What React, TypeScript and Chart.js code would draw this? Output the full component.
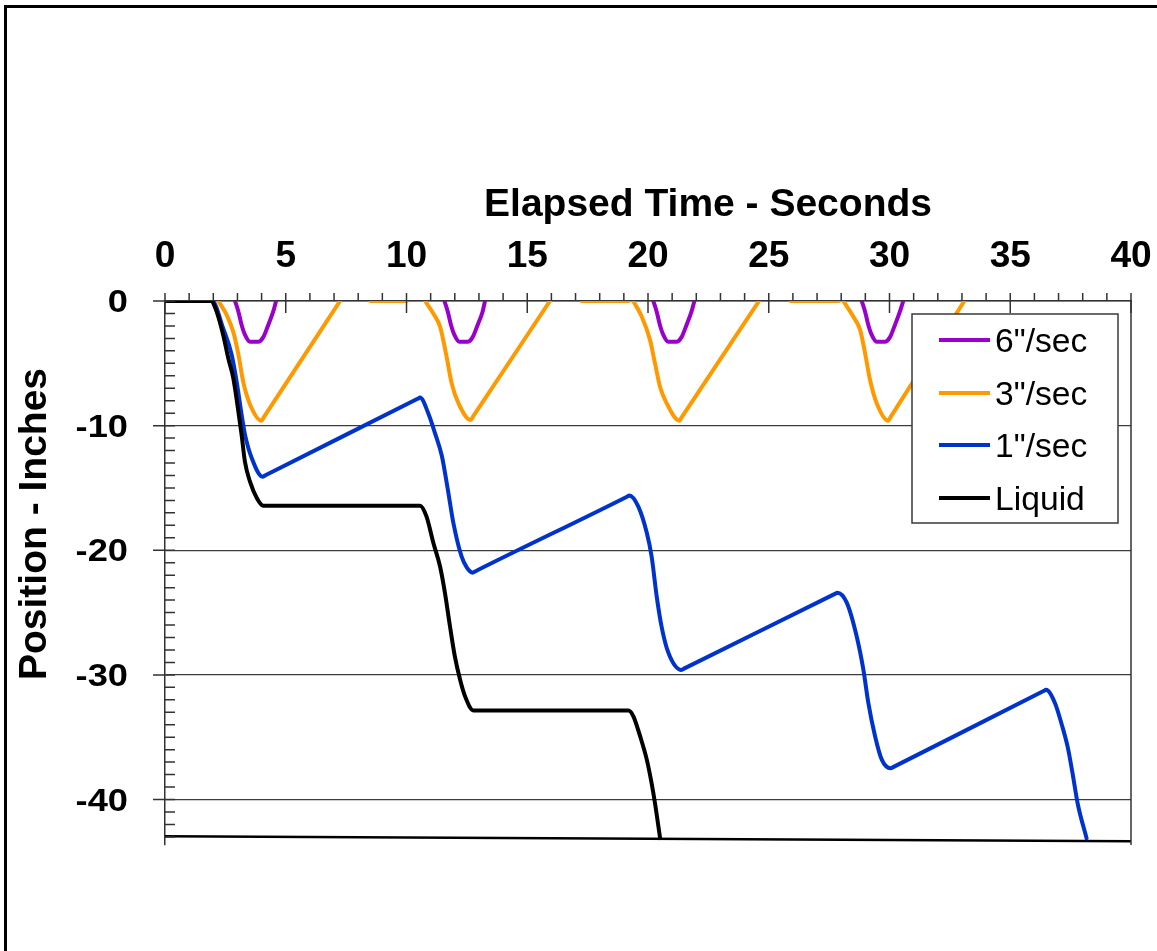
import React, { useEffect, useRef } from "react";
import { Chart, registerables } from "chart.js";

Chart.register(...registerables);

// Axis ticks
const xTickValues = [0, 5, 10, 15, 20, 25, 30, 35, 40];
const xTickLabels = ["0", "5", "10", "15", "20", "25", "30", "35", "40"];
const yTickValues = [0, -10, -20, -30, -40];
const yTickLabels = ["0", "-10", "-20", "-30", "-40"];

// Legend entries
const seriesNames = ['6"/sec', '3"/sec', '1"/sec', "Liquid"];
const seriesColors = ["#9900CC", "#FF9900", "#0033CC", "#000000"];

// Liquid level
const liquidTime = [0, 1.9, 2.14, 2.41, 2.62, 2.83, 3.04, 3.17, 3.31, 3.52, 3.8, 4.07, 10.56, 10.83, 11.11, 11.39, 11.59, 11.8, 12.0, 12.22, 12.42, 12.77, 19.19, 19.39, 19.67, 19.95, 20.15, 20.29, 20.5];
const liquidPos = [0, 0, -0.86, -2.73, -4.6, -6.2, -8.9, -10.7, -12.9, -14.5, -15.8, -16.42, -16.42, -17.3, -19.4, -21.3, -23.4, -26.1, -28.5, -30.4, -31.7, -32.85, -32.85, -33.3, -34.9, -36.8, -38.7, -40.3, -43.1];

// 1"/sec follower
const rate1Time = [0, 1.95, 2.41, 2.76, 2.97, 3.17, 3.31, 3.59, 4.04, 4.14, 10.46, 10.56, 10.9, 11.18, 11.46, 11.7, 11.94, 12.28, 12.5, 12.74, 12.84, 19.13, 19.23, 19.6, 19.95, 20.15, 20.36, 20.56, 20.84, 21.39, 21.49, 27.74, 27.84, 28.23, 28.64, 28.92, 29.12, 29.4, 29.68, 30.05, 30.15, 36.38, 36.48, 36.85, 37.12, 37.38, 37.58, 37.8, 38.16];
const rate1Pos = [0, 0, -2.2, -4.3, -6.5, -9.1, -10.7, -12.6, -14.1, -14.0, -7.85, -7.75, -9.0, -10.6, -12.4, -15.0, -17.8, -20.5, -21.4, -21.8, -21.7, -15.7, -15.6, -16.5, -18.6, -20.5, -23.7, -26.1, -28.2, -29.6, -29.5, -23.5, -23.4, -24.2, -26.9, -29.6, -32.2, -34.9, -36.8, -37.5, -37.4, -31.3, -31.2, -32.25, -33.9, -35.8, -37.9, -40.4, -43.1];

// 3"/sec follower (null = no trace)
const rate3Time = [2.21, 2.55, 2.83, 3.04, 3.24, 3.52, 4.0, 4.1, 7.25, 7.9, 8.5, 10.0, 10.4, 10.77, 11.11, 11.39, 11.66, 11.87, 12.15, 12.66, 12.76, 15.94, 16.6, 17.25, 19.2, 19.3, 19.39, 19.74, 20.08, 20.29, 20.5, 20.77, 21.3, 21.4, 24.6, 25.2, 25.9, 27.9, 28.0, 28.09, 28.5, 28.78, 28.99, 29.19, 29.47, 29.95, 30.05, 33.1];
const rate3Pos = [0, -1.1, -2.5, -4.3, -6.5, -8.3, -9.6, -9.3, 0, null, 0, 0, null, 0, -1.0, -2.06, -4.47, -6.6, -8.2, -9.55, -9.26, 0, null, 0, 0, null, 0, -1.25, -3.1, -5.0, -6.9, -8.2, -9.6, -9.31, 0, null, 0, 0, null, 0, -1.25, -2.3, -4.2, -6.3, -8.2, -9.6, -9.3, 0];

// 6"/sec follower (null = no trace)
const rate6Time = [2.9, 3.04, 3.17, 3.31, 3.52, 3.86, 4.07, 4.28, 4.48, 4.6, 8.0, 11.57, 11.71, 11.84, 11.98, 12.19, 12.53, 12.74, 12.95, 13.15, 13.25, 16.7, 20.22, 20.36, 20.49, 20.63, 20.84, 21.18, 21.39, 21.6, 21.8, 21.92, 25.4, 28.85, 28.99, 29.12, 29.26, 29.47, 29.81, 30.02, 30.23, 30.43, 30.57];
const rate6Pos = [0, -0.86, -1.9, -2.7, -3.27, -3.27, -2.9, -1.9, -0.86, 0, null, 0, -0.86, -1.9, -2.7, -3.27, -3.27, -2.9, -1.9, -0.86, 0, null, 0, -0.86, -1.9, -2.7, -3.27, -3.27, -2.9, -1.9, -0.86, 0, null, 0, -0.86, -1.9, -2.7, -3.27, -3.27, -2.9, -1.9, -0.86, 0];

// Tank floor
const floorTime = [0, 40];
const floorPos = [-42.94, -43.34];

const X_MIN = 0;
const X_MAX = 40;
const Y_MIN = -43.65;
const Y_MAX = 0;

const FONT = "'Liberation Sans', Arial, sans-serif";
const AXIS_COLOR = "#333333";

const pairs = (t: number[], v: (number | null)[]) => t.map((x, i) => ({ x, y: v[i] }));

function drawText(
  ctx: CanvasRenderingContext2D,
  text: string,
  x: number,
  y: number,
  font: string,
  align: CanvasTextAlign,
  baseline: CanvasTextBaseline,
  sx = 1,
  rotate = 0
) {
  ctx.save();
  ctx.translate(x, y);
  if (rotate) ctx.rotate(rotate);
  ctx.scale(sx, 1);
  ctx.font = font;
  ctx.textAlign = align;
  ctx.textBaseline = baseline;
  ctx.fillStyle = "#000";
  ctx.fillText(text, 0, 0);
  ctx.restore();
}

const decorations = {
  id: "decorations",
  afterDraw(chart: any) {
    const ctx: CanvasRenderingContext2D = chart.ctx;
    const xs = chart.scales.x;
    const ys = chart.scales.y;
    const area = chart.chartArea;

    ctx.save();
    ctx.strokeStyle = AXIS_COLOR;
    ctx.lineWidth = 1.5;

    // right-hand frame of the plot
    ctx.beginPath();
    ctx.moveTo(area.right, area.top);
    ctx.lineTo(area.right, area.bottom);
    ctx.stroke();

    // x axis: minor ticks outside (up), major ticks inside (down)
    ctx.beginPath();
    for (let v = X_MIN; v <= X_MAX; v += 1) {
      const px = xs.getPixelForValue(v);
      ctx.moveTo(px, area.top - 8);
      ctx.lineTo(px, area.top);
    }
    for (const v of xTickValues) {
      const px = xs.getPixelForValue(v);
      ctx.moveTo(px, area.top);
      ctx.lineTo(px, area.top + 12);
    }
    // y axis: minor ticks inside (right), major ticks outside (left)
    for (let v = 0; v >= Y_MIN; v -= 1) {
      const py = ys.getPixelForValue(v);
      ctx.moveTo(area.left, py);
      ctx.lineTo(area.left + 10, py);
    }
    for (const v of yTickValues) {
      const py = ys.getPixelForValue(v);
      ctx.moveTo(area.left - 12, py);
      ctx.lineTo(area.left, py);
    }
    ctx.stroke();
    ctx.restore();

    // tick labels
    xTickValues.forEach((v, i) => {
      drawText(ctx, xTickLabels[i], xs.getPixelForValue(v), area.top - 34, `bold 36px ${FONT}`, "center", "alphabetic", 1.03);
    });
    yTickValues.forEach((v, i) => {
      drawText(ctx, yTickLabels[i], area.left - 37, ys.getPixelForValue(v) + 11, `bold 31px ${FONT}`, "right", "alphabetic", 1.17);
    });

    // axis titles
    drawText(ctx, "Elapsed Time - Seconds", 708, 216, `bold 39px ${FONT}`, "center", "alphabetic");
    drawText(ctx, "Position - Inches", 46, 524, `bold 39px ${FONT}`, "center", "alphabetic", 1, -Math.PI / 2);

    // legend
    const lx = 912, ly = 314, lw = 206, lh = 209;
    ctx.save();
    ctx.fillStyle = "#ffffff";
    ctx.fillRect(lx, ly, lw, lh);
    ctx.strokeStyle = "#3a3a3a";
    ctx.lineWidth = 1.5;
    ctx.strokeRect(lx, ly, lw, lh);
    const rowY = [340, 393, 445, 498];
    seriesNames.forEach((name, i) => {
      ctx.strokeStyle = seriesColors[i];
      ctx.lineWidth = 4;
      ctx.beginPath();
      ctx.moveTo(939, rowY[i]);
      ctx.lineTo(990, rowY[i]);
      ctx.stroke();
      drawText(ctx, name, 995, rowY[i] + 12, `33px ${FONT}`, "left", "alphabetic", 1.02);
    });
    ctx.restore();

    // outer frame (top and left edges)
    ctx.save();
    ctx.fillStyle = "#000";
    ctx.fillRect(4, 5, 3, chart.height - 5);
    ctx.fillRect(4, 5, chart.width - 4, 3);
    ctx.restore();
  },
};

export default function App() {
  const canvasRef = useRef<HTMLCanvasElement | null>(null);

  useEffect(() => {
    const canvas = canvasRef.current;
    if (!canvas) return;
    const line = (label: string, t: number[], v: (number | null)[], color: string, width: number, smooth: boolean) => ({
      label,
      data: pairs(t, v),
      borderColor: color,
      backgroundColor: color,
      borderWidth: width,
      pointRadius: 0,
      fill: false,
      tension: 0,
      cubicInterpolationMode: smooth ? ("monotone" as const) : ("default" as const),
      spanGaps: false,
      borderJoinStyle: "round" as const,
      borderCapStyle: "round" as const,
    });

    const chart = new Chart(canvas, {
      type: "line",
      data: {
        datasets: [
          line("Floor", floorTime, floorPos, "#000000", 2.5, false),
          line(seriesNames[3], liquidTime, liquidPos, seriesColors[3], 4, true),
          line(seriesNames[2], rate1Time, rate1Pos, seriesColors[2], 4, true),
          line(seriesNames[1], rate3Time, rate3Pos, seriesColors[1], 4, true),
          line(seriesNames[0], rate6Time, rate6Pos, seriesColors[0], 4, true),
        ],
      },
      options: {
        responsive: false,
        animation: false,
        devicePixelRatio: 1,
        events: [],
        layout: { padding: { left: 0, top: 0, right: 26, bottom: 106 } },
        plugins: { legend: { display: false }, tooltip: { enabled: false } },
        scales: {
          x: {
            type: "linear",
            position: "top",
            min: X_MIN,
            max: X_MAX,
            ticks: { display: false, stepSize: 5 },
            grid: { display: false, drawTicks: false },
            border: { display: true, color: AXIS_COLOR, width: 1.5 },
            afterFit: (s: any) => {
              s.height = 301;
            },
          },
          y: {
            type: "linear",
            min: Y_MIN,
            max: Y_MAX,
            afterBuildTicks: (s: any) => {
              s.ticks = yTickValues.map((value) => ({ value }));
            },
            ticks: { display: false },
            grid: { display: true, drawTicks: false, color: "#3c3c3c", lineWidth: 1.2 },
            border: { display: true, color: AXIS_COLOR, width: 1.5 },
            afterFit: (s: any) => {
              s.width = 165;
            },
          },
        },
      },
      plugins: [decorations],
    });
    return () => chart.destroy();
  }, []);

  return (
    <canvas
      ref={canvasRef}
      width={1157}
      height={951}
      style={{ position: "absolute", left: 0, top: 0, display: "block" }}
    />
  );
}
